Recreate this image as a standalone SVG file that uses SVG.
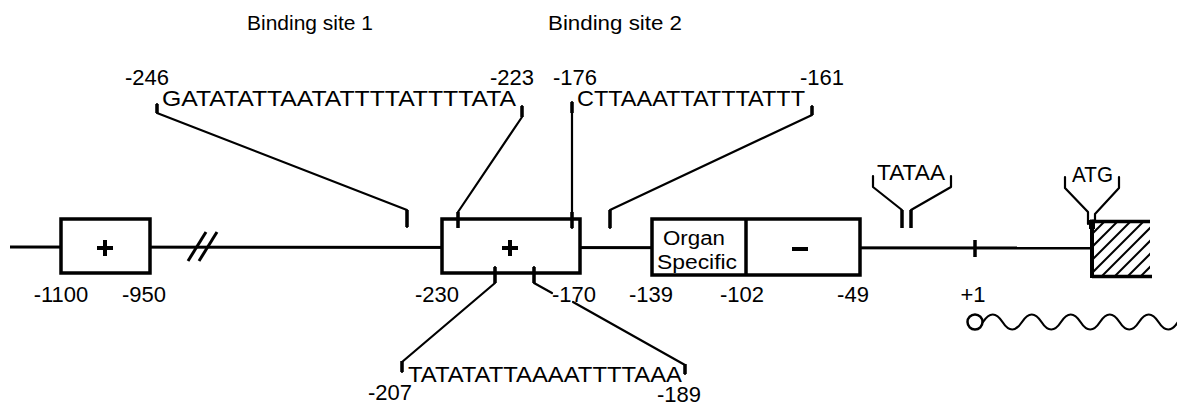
<svg xmlns="http://www.w3.org/2000/svg" width="1177" height="408" viewBox="0 0 1177 408">
<style>
text{font-family:"Liberation Sans",Arial,sans-serif;fill:#000}
.lbl{font-size:22px}
.seq{font-size:22px}
.ttl{font-size:21px}
.org{font-size:20px}
.ln{stroke:#000;stroke-width:2.2;fill:none;stroke-linecap:round;stroke-linejoin:round}
.tk{stroke:#000;stroke-width:3.5;fill:none}
.box{fill:#fff;stroke:#000;stroke-width:3.5}
.main{stroke:#000;stroke-width:3;fill:none}
.sym{stroke:#000;stroke-width:4;fill:none}
.hat{stroke:#000;stroke-width:2;fill:none}
</style>
<defs>
<clipPath id="hc"><rect x="1092" y="221" width="58" height="56"/></clipPath>
</defs>

<g id="backbone">
<line class="main" x1="10" y1="247" x2="1092" y2="248"/>
<line class="main" x1="188" y1="261" x2="206" y2="232"/>
<line class="main" x1="199" y1="261" x2="217" y2="232"/>
<line class="tk" x1="975" y1="240" x2="975" y2="257"/>
</g>

<g id="titles">
<text class="ttl" x="247" y="30" textLength="126" lengthAdjust="spacingAndGlyphs">Binding site 1</text>
<text class="ttl" x="548" y="30" textLength="134" lengthAdjust="spacingAndGlyphs">Binding site 2</text>
</g>

<g id="box1">
<rect class="box" x="61" y="219" width="89" height="54"/>
<line class="sym" x1="97" y1="248" x2="113" y2="248"/>
<line class="sym" x1="105" y1="240" x2="105" y2="256"/>
<text class="lbl" x="61" y="302" text-anchor="middle">-1100</text>
<text class="lbl" x="144" y="302" text-anchor="middle">-950</text>
</g>

<g id="box2">
<rect class="box" x="442" y="219" width="138" height="54"/>
<line class="sym" x1="502" y1="248" x2="518" y2="248"/>
<line class="sym" x1="510" y1="240" x2="510" y2="256"/>
<text class="lbl" x="437" y="302" text-anchor="middle">-230</text>
<text class="lbl" x="574" y="302" text-anchor="middle">-170</text>
</g>

<g id="box3">
<rect class="box" x="652" y="219" width="208" height="56"/>
<line class="tk" x1="746" y1="219" x2="746" y2="275"/>
<text class="org" x="663" y="245" textLength="62" lengthAdjust="spacingAndGlyphs">Organ</text>
<text class="org" x="657" y="269" textLength="80" lengthAdjust="spacingAndGlyphs">Specific</text>
<line class="sym" x1="792" y1="249" x2="808" y2="249"/>
<text class="lbl" x="651" y="302" text-anchor="middle">-139</text>
<text class="lbl" x="742" y="302" text-anchor="middle">-102</text>
<text class="lbl" x="853" y="302" text-anchor="middle">-49</text>
</g>

<g id="tataa">
<text class="lbl" x="877" y="180" textLength="68" lengthAdjust="spacingAndGlyphs">TATAA</text>
<path class="ln" d="M873,176 V187 L902,210"/>
<path class="ln" d="M951,176 V187 L911,210"/>
<line class="tk" x1="902" y1="210" x2="902" y2="228"/>
<line class="tk" x1="911" y1="210" x2="911" y2="228"/>
</g>

<g id="atg">
<text class="lbl" x="1072" y="182" textLength="41" lengthAdjust="spacingAndGlyphs">ATG</text>
<path class="ln" d="M1065,177 V188 L1088,212 V224"/>
<path class="ln" d="M1119,177 V188 L1095,214 V222"/>
</g>

<g id="coding">
<g clip-path="url(#hc)">
<line class="hat" x1="1036" y1="290" x2="1106" y2="220"/>
<line class="hat" x1="1049" y1="290" x2="1119" y2="220"/>
<line class="hat" x1="1062" y1="290" x2="1132" y2="220"/>
<line class="hat" x1="1075" y1="290" x2="1145" y2="220"/>
<line class="hat" x1="1088" y1="290" x2="1158" y2="220"/>
<line class="hat" x1="1101" y1="290" x2="1171" y2="220"/>
<line class="hat" x1="1114" y1="290" x2="1184" y2="220"/>
<line class="hat" x1="1127" y1="290" x2="1197" y2="220"/>
<line class="hat" x1="1140" y1="290" x2="1210" y2="220"/>
</g>
<line class="tk" x1="1092" y1="221.5" x2="1150" y2="221.5"/>
<line class="tk" x1="1092" y1="276.5" x2="1152" y2="276.5"/>
<line class="sym" x1="1092" y1="219.5" x2="1092" y2="278"/>
<rect x="1089" y="220" width="6" height="9" fill="#000"/>
</g>

<g id="transcript">
<text class="lbl" x="973" y="302" text-anchor="middle" font-size="19">+1</text>
<circle cx="975" cy="322" r="7.5" fill="#fff" stroke="#000" stroke-width="2.5"/>
<path class="ln" d="M983,322 q9.75,-15 19.5,0 t19.5,0 t19.5,0 t19.5,0 t19.5,0 t19.5,0 t19.5,0 t19.5,0 t19.5,0 t19.5,0"/>
</g>

<g id="site1-seq">
<text class="lbl" x="125" y="85">-246</text>
<text class="seq" x="162" y="106" textLength="354" lengthAdjust="spacingAndGlyphs">GATATATTAATATTTTATTTTATA</text>
<text class="lbl" x="490" y="85">-223</text>
</g>

<g id="site2-seq">
<text class="lbl" x="553" y="85">-176</text>
<text class="seq" x="577" y="106" textLength="228" lengthAdjust="spacingAndGlyphs">CTTAAATTATTTATTT</text>
<text class="lbl" x="800" y="85">-161</text>
</g>

<g id="lower-seq">
<text class="seq" x="408" y="382" textLength="274" lengthAdjust="spacingAndGlyphs">TATATATTAAAATTTTAAA</text>
<text class="lbl" x="368" y="400">-207</text>
<text class="lbl" x="657" y="402">-189</text>
</g>

<g id="connectors">
<path class="ln" d="M157,104 V113 L407,210 V227"/>
<line class="tk" x1="157" y1="104" x2="157" y2="113"/>
<line class="tk" x1="407" y1="210" x2="407" y2="227"/>
<path class="ln" d="M522,106 V117 L458,212 V227"/>
<line class="tk" x1="522" y1="106" x2="522" y2="117"/>
<line class="tk" x1="458" y1="212" x2="458" y2="228"/>
<line class="ln" x1="572" y1="102" x2="572" y2="228"/>
<line class="tk" x1="572" y1="102" x2="572" y2="113"/>
<line class="tk" x1="572" y1="212" x2="572" y2="228"/>
<path class="ln" d="M812,106 V115 L610,210 V228"/>
<line class="tk" x1="812" y1="106" x2="812" y2="115"/>
<line class="tk" x1="610" y1="210" x2="610" y2="228"/>
<path class="ln" d="M495,267 V283 L402,362 V372"/>
<line class="tk" x1="495" y1="267" x2="495" y2="283"/>
<line class="tk" x1="402" y1="361" x2="402" y2="372"/>
<path class="ln" d="M534,267 V283 L552,293"/>
<line class="tk" x1="534" y1="267" x2="534" y2="283"/>
<path class="ln" d="M573,302 L685,365 V374"/>
<line class="tk" x1="685" y1="364" x2="685" y2="374"/>
</g>
</svg>
